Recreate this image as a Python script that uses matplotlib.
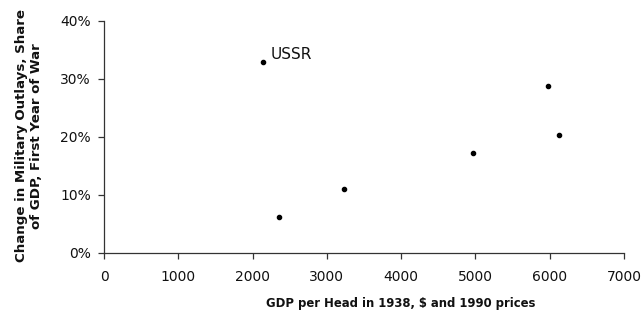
import matplotlib
matplotlib.use("Agg")
import matplotlib.pyplot as plt
from matplotlib.ticker import PercentFormatter

# GDP per head 1938 (1990 $) and change in military outlays (% of GDP)
gdp_per_head = [2144, 2351, 3235, 4972, 5976, 6129]
military_change = [32.9, 6.2, 11.1, 17.2, 28.8, 20.4]
point_labels = ["USSR", "", "", "", "", ""]

x_ticks = [0, 1000, 2000, 3000, 4000, 5000, 6000, 7000]
y_ticks = [0, 10, 20, 30, 40]

plt.rcParams["font.family"] = "DejaVu Sans"

fig = plt.figure(figsize=(6.44, 3.13), dpi=100)
ax = fig.add_axes([0.1615, 0.1917, 0.8075, 0.742])

ax.scatter(gdp_per_head, military_change, s=9, color="black", zorder=3)
for x, y, lab in zip(gdp_per_head, military_change, point_labels):
    if lab:
        ax.annotate(lab, (x, y), xytext=(5, 0), textcoords="offset points",
                    fontsize=11, va="bottom", ha="left", color="#111111")

ax.set_xlim(0, 7000)
ax.set_ylim(0, 40)
ax.set_xticks(x_ticks)
ax.set_yticks(y_ticks)
ax.yaxis.set_major_formatter(PercentFormatter(decimals=0))

for side in ["top", "right"]:
    ax.spines[side].set_visible(False)
for side in ["left", "bottom"]:
    ax.spines[side].set_color("#333333")
    ax.spines[side].set_linewidth(0.9)

ax.tick_params(axis="both", direction="out", length=4.5, width=0.9,
               color="#333333", labelsize=10, labelcolor="#111111")
ax.tick_params(axis="x", pad=8)
ax.tick_params(axis="y", pad=5)

ax.set_xlabel("GDP per Head in 1938, $ and 1990 prices",
              fontsize=8.4, fontweight="bold", color="#111111")
ax.xaxis.set_label_coords(0.571, -0.19)
ax.set_ylabel("Change in Military Outlays, Share\nof GDP, First Year of War",
              fontsize=9.6, fontweight="bold", color="#111111",
              linespacing=1.2, ha="center")
ax.yaxis.set_label_coords(-0.118, 0.505)

fig.savefig("out.png", dpi=100)
